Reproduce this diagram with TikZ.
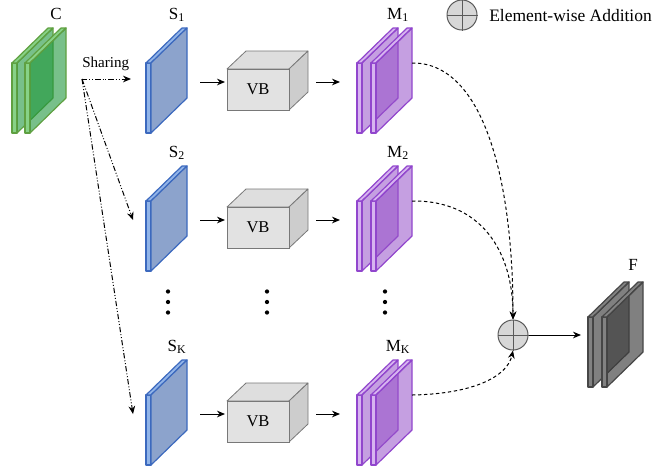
\documentclass[tikz,border=0pt]{standalone}
\usepackage{fontspec}
\setmainfont{Liberation Serif}
\usetikzlibrary{arrows.meta}
\definecolor{gface}{RGB}{30,150,60}
\definecolor{gstrip}{RGB}{135,210,135}
\definecolor{gdraw}{RGB}{95,160,65}
\definecolor{pface}{RGB}{150,80,200}
\definecolor{pstrip}{RGB}{215,180,240}
\definecolor{pdraw}{RGB}{145,70,205}
\definecolor{kface}{RGB}{60,60,60}
\definecolor{kstrip}{RGB}{130,130,130}
\definecolor{kdraw}{RGB}{70,70,70}
\definecolor{bface}{RGB}{140,163,204}
\definecolor{bstrip}{RGB}{145,180,232}
\definecolor{bdraw}{RGB}{60,105,190}
\definecolor{vbfront}{RGB}{226,226,226}
\definecolor{vbtop}{RGB}{222,222,222}
\definecolor{vbside}{RGB}{205,205,205}
\definecolor{vbdraw}{RGB}{120,120,120}
\definecolor{addfill}{RGB}{215,215,215}
\definecolor{adddraw}{RGB}{90,90,90}
% plate: x0, yb, strip colour, face colour, draw colour, face opacity
\newcommand{\myplate}[6]{%
\begin{scope}[shift={(#1,#2)}]
\draw[draw=#5, line width=0.9pt, line join=round, fill=#3] (0,0) rectangle (5,-70);
\draw[draw=#5, line width=0.9pt, line join=round, fill=#3] (0,-70) -- (5,-70) -- (41,-105) -- (36,-105) -- cycle;
\draw[draw=#5, line width=0.9pt, line join=round, fill=#4, fill opacity=#6] (5,0) -- (5,-70) -- (41,-105) -- (41,-35) -- cycle;
\end{scope}}
% VB cube: yb, name
\newcommand{\vbbox}[2]{%
\begin{scope}[shift={(0,#1)}]
\draw[draw=vbdraw, line width=0.6pt, line join=round, fill=vbtop] (227,-64) -- (246,-82) -- (308,-82) -- (289,-64) -- cycle;
\draw[draw=vbdraw, line width=0.6pt, line join=round, fill=vbside] (289,-64) -- (308,-82) -- (308,-41) -- (289,-23) -- cycle;
\draw[draw=vbdraw, line width=0.6pt, fill=vbfront] (227,-64) rectangle (289,-23);
\node[font=\fontsize{12.4}{15}\selectfont, inner sep=0] (#2) at (258,-43.5) {VB};
\end{scope}}
\begin{document}
\begin{tikzpicture}[x=0.75pt,y=-0.75pt,
  lbl/.style={font=\fontsize{12.75}{15}\selectfont, anchor=base, inner sep=0},
  arr/.style={-{Stealth[length=6pt,width=5pt]}, line width=0.75pt},
  dsh/.style={arr, dash pattern=on 2.5pt off 2pt},
  share/.style={arr, dash pattern=on 4pt off 1.5pt on 0.7pt off 1.5pt on 0.7pt off 1.5pt},
  addc/.style={circle, draw=adddraw, fill=addfill, line width=0.75pt, minimum size=22.5pt, inner sep=0},
  dotn/.style={circle, fill=black, inner sep=0, minimum size=3.2pt}]
\useasboundingbox (0,0) rectangle (659,469);

% C
\myplate{12}{133}{gstrip}{gface}{gdraw}{0.6}
\myplate{25}{133}{gstrip}{gface}{gdraw}{0.6}
\node[lbl] (clbl) at (56,19.5) {C};

% rows
\foreach \yb/\i in {133/1,271/2,465/K}{
  \myplate{146}{\yb}{bstrip}{bface}{bdraw}{1}
  \vbbox{\yb}{vb\i}
  \myplate{357}{\yb}{pstrip}{pface}{pdraw}{0.55}
  \myplate{371}{\yb}{pstrip}{pface}{pdraw}{0.55}
  \node[lbl] (s\i lbl) at (177,\yb-114) {S\textsubscript{\i}};
  \node[lbl] (m\i lbl) at (398,\yb-114) {M\textsubscript{\i}};
  \coordinate (sin\i) at (133,\yb-51);
  \coordinate (sout\i) at (200,\yb-51);
  \coordinate (vbin\i) at (225,\yb-51);
  \coordinate (vbout\i) at (316,\yb-51);
  \coordinate (min\i) at (340,\yb-51);
  \coordinate (mout\i) at (412,\yb-70);
  \draw[arr] (sout\i) -- (vbin\i);
  \draw[arr] (vbout\i) -- (min\i);
}

% dots
\foreach \x/\n in {168/a,267/b,385/c}{
  \node[dotn] (\n1) at (\x,291.5) {};
  \node[dotn] (\n2) at (\x,302) {};
  \node[dotn] (\n3) at (\x,312.5) {};
}

% F
\myplate{588}{387}{kstrip}{kface}{kdraw}{0.65}
\myplate{602}{387}{kstrip}{kface}{kdraw}{0.65}
\node[lbl] (flbl) at (633,270) {F};
\coordinate (fin) at (581,335);

% addition
\node[addc] (add) at (513,335) {};
\draw[adddraw, line width=0.6pt] (add.north) -- (add.south) (add.west) -- (add.east);
\draw[arr] (add.east) -- (fin);

% legend
\node[addc] (leg) at (462,15) {};
\draw[adddraw, line width=0.6pt] (leg.north) -- (leg.south) (leg.west) -- (leg.east);
\node[font=\fontsize{13.1}{15}\selectfont, anchor=base west, inner sep=0] (legtxt) at (489,21) {Element-wise Addition};

% sharing
\coordinate (sh) at (82,79);
\coordinate (sh1) at (131,79);
\node[font=\fontsize{11.3}{14}\selectfont, anchor=base west, inner sep=0] (sharelbl) at (82,67) {Sharing};
\draw[share] (sh) -- (sh1);
\draw[share] (sh) -- (sin2);
\draw[share] (sh) -- (sinK);

% merge curves
\draw[dsh] (mout1) .. controls (480,62) and (513,170) .. (add.north);
\draw[dsh] (mout2) .. controls (480,200) and (513,250) .. (add.north);
\draw[dsh] (moutK) .. controls (470,394) and (507,378) .. (add.south);
\end{tikzpicture}
\end{document}
